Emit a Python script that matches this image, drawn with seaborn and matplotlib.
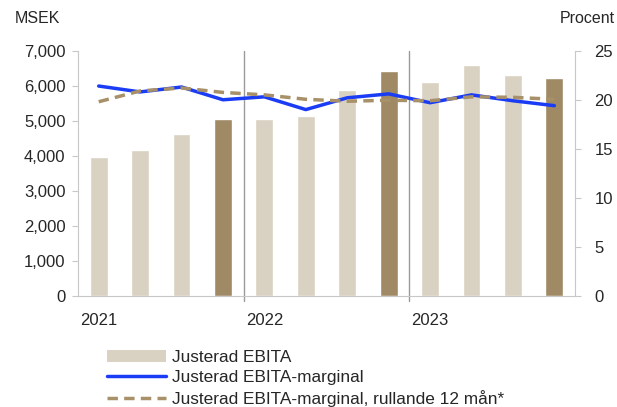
import numpy as np
import pandas as pd
import matplotlib.pyplot as plt
import seaborn as sns
from matplotlib.patches import Patch
from matplotlib.lines import Line2D

# data
quarters = ["Q1 21", "Q2 21", "Q3 21", "Q4 21",
            "Q1 22", "Q2 22", "Q3 22", "Q4 22",
            "Q1 23", "Q2 23", "Q3 23", "Q4 23"]
ebita = [3970, 4180, 4620, 5050, 5040, 5130, 5880, 6420, 6110, 6590, 6300, 6220]
marginal = [21.4, 20.8, 21.3, 20.0, 20.3, 19.0, 20.2, 20.6, 19.7, 20.5, 19.9, 19.4]
rullande = [19.8, 20.9, 21.2, 20.75, 20.5, 20.05, 19.85, 19.95, 19.9, 20.3, 20.25, 20.05]
years = ["2021", "2022", "2023"]

light = "#d9d1c1"
dark = "#a08a65"
blue = "#1a3cf5"
dash_col = "#a89068"
bar_cols = [dark if q.startswith("Q4") else light for q in quarters]

sns.set_style("white")
plt.rcParams["font.family"] = ["Liberation Sans", "DejaVu Sans"]
fs = 12

df = pd.DataFrame({"kvartal": quarters, "ebita": ebita,
                   "marginal": marginal, "rullande": rullande})
df["pos"] = np.arange(len(df))

fig = plt.figure(figsize=(6.17, 4.07), dpi=100)
ax = fig.add_axes([0.1264, 0.2727, 0.8056, 0.6027])

sns.barplot(data=df, x="kvartal", y="ebita", hue="kvartal", palette=bar_cols,
            legend=False, width=0.43, saturation=1, ax=ax)
ax.set_ylim(0, 7000)
ax.set_xlim(-0.5, 11.5)
ax.set_yticks(range(0, 7001, 1000))
ax.set_yticklabels([f"{v:,}" for v in range(0, 7001, 1000)], fontsize=fs)
ax.set_xlabel("")
ax.set_ylabel("")

# year labels under first quarter, small ticks at slot borders
ax.set_xticks([0, 4, 8])
ax.set_xticklabels(years, fontsize=fs)
ax.tick_params(axis="x", length=0, pad=12)
ax.set_xticks(np.arange(-0.5, 12, 1), minor=True)
ax.tick_params(axis="x", which="minor", length=4, color="#c8c8c8", direction="out")
ax.tick_params(axis="y", length=4, color="#c8c8c8", direction="out", pad=5)

for sp in ["top", "right"]:
    ax.spines[sp].set_visible(False)
for sp in ["left", "bottom"]:
    ax.spines[sp].set_color("#c8c8c8")

# separator lines between years
for xs in [3.5, 7.5]:
    ax.axvline(xs, ymin=-0.02, ymax=1.0, color="#9a9a9a", lw=1, clip_on=False)

ax2 = ax.twinx()
sns.lineplot(data=df, x="pos", y="marginal", color=blue, lw=2.5, ax=ax2)
sns.lineplot(data=df, x="pos", y="rullande", color=dash_col, lw=2.5,
             linestyle=(0, (3, 1.8)), ax=ax2)
ax2.set_ylim(0, 25)
ax2.set_yticks(range(0, 26, 5))
ax2.set_yticklabels([str(v) for v in range(0, 26, 5)], fontsize=fs)
ax2.set_ylabel("")
ax2.tick_params(axis="y", length=4, color="#c8c8c8", direction="out", pad=10)
for sp in ["top", "left", "bottom"]:
    ax2.spines[sp].set_visible(False)
ax2.spines["right"].set_color("#c8c8c8")

fig.text(0.024, 0.955, "MSEK", fontsize=11.5, va="center")
fig.text(0.997, 0.955, "Procent", fontsize=11.5, va="center", ha="right")

handles = [Patch(facecolor=light, edgecolor="none"),
           Line2D([], [], color=blue, lw=2.5),
           Line2D([], [], color=dash_col, lw=2.5, linestyle=(0, (3, 1.8)))]
labels = ["Justerad EBITA", "Justerad EBITA-marginal",
          "Justerad EBITA-marginal, rullande 12 mån*"]
fig.legend(handles, labels, loc="upper left", bbox_to_anchor=(0.173, 0.141),
           frameon=False, fontsize=12.4, handlelength=3.45, handleheight=0.7,
           handletextpad=0.35, labelspacing=0.3, borderpad=0, borderaxespad=0)

fig.savefig("out.png", dpi=100)
